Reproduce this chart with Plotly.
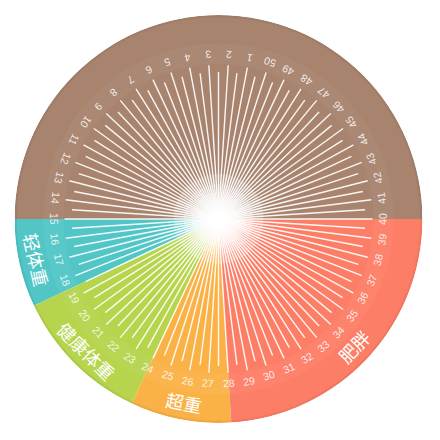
import math
import plotly.graph_objects as go

# ---- data ----
categories = ["轻体重", "健康体重", "超重", "肥胖", ""]
bmi_start = [15, 18.5, 24, 28, 40]
bmi_end = [18.5, 24, 28, 40, 65]          # 65 == 15 after wrapping 50 -> 1
colors = ["#52c6c6", "#b6d54c", "#fab247", "#fd7e67", "#a8846f"]
tick_labels = [str(i) for i in range(1, 51)]
tick_values = list(range(1, 51))

# ---- geometry / scale ----
W = H = 440
PAGE_OFF = 8.0                      # browser body margin
CX, CY, R = 218.5 - PAGE_OFF, 219.0 - PAGE_OFF, 204.0
STEP = 360.0 / 50
ANCHOR_BMI, ANCHOR_DEG = 40, 90.0


def bmi_to_theta(b):
    return (ANCHOR_DEG + (ANCHOR_BMI - b) * STEP) % 360


def polar_to_paper(r, theta):
    t = math.radians(theta)
    sx = CX + r * R * math.sin(t)
    sy = CY - r * R * math.cos(t)
    return sx / W, 1 - sy / H


def text_angle(theta):
    a = (theta + 180) % 360
    if a > 180:
        a -= 360
    return a


fig = go.Figure()

# sectors
for name, s, e, c in zip(categories, bmi_start, bmi_end, colors):
    mid = bmi_to_theta((s + e) / 2)
    fig.add_trace(go.Barpolar(
        r=[1], theta=[mid], width=[(e - s) * STEP],
        marker=dict(color=c, line=dict(width=0)),
        hoverinfo="skip", showlegend=False))

# subtle light band behind labels
fig.add_trace(go.Barpolar(
    r=[0.1], base=[0.76], theta=[0], width=[360],
    marker=dict(color="rgba(255,255,255,0.04)", line=dict(width=0)),
    hoverinfo="skip", showlegend=False))
# subtle darker rim
fig.add_trace(go.Barpolar(
    r=[0.012], base=[0.988], theta=[0], width=[360],
    marker=dict(color="rgba(0,0,0,0.05)", line=dict(width=0)),
    hoverinfo="skip", showlegend=False))

# radial lines: integer (long) and half (short)
rs, ts = [], []
for v in tick_values:
    for off, length in ((0.0, 0.755), (0.5, 0.72)):
        th = bmi_to_theta(v + off)
        rs += [0, length, None]
        ts += [th, th, None]
fig.add_trace(go.Scatterpolar(
    r=rs, theta=ts, mode="lines",
    line=dict(color="rgba(255,255,255,0.92)", width=1.4),
    hoverinfo="skip", showlegend=False))

# center glow
glow_sizes = [90, 70, 54, 40, 30, 22, 14]
for sz in glow_sizes:
    fig.add_trace(go.Scatterpolar(
        r=[0], theta=[0], mode="markers",
        marker=dict(size=sz, color="white", opacity=0.2, line=dict(width=0)),
        hoverinfo="skip", showlegend=False))

annotations = []
for v, lab in zip(tick_values, tick_labels):
    th = bmi_to_theta(v)
    x, y = polar_to_paper(0.806, th)
    annotations.append(dict(
        x=x, y=y, xref="paper", yref="paper", text=lab, showarrow=False,
        textangle=text_angle(th), xanchor="center", yanchor="middle",
        font=dict(family="Liberation Sans, Arial", size=10.5,
                  color="rgba(255,255,255,0.85)")))

for name, s, e in zip(categories, bmi_start, bmi_end):
    if not name:
        continue
    th = bmi_to_theta((s + e) / 2)
    x, y = polar_to_paper(0.912, th)
    annotations.append(dict(
        x=x, y=y, xref="paper", yref="paper", text=name, showarrow=False,
        textangle=text_angle(th), xanchor="center", yanchor="middle",
        font=dict(family="Noto Sans CJK SC", size=18, color="white")))

fig.update_layout(
    width=W, height=H,
    margin=dict(l=0, r=0, t=0, b=0),
    paper_bgcolor="white",
    plot_bgcolor="white",
    bargap=0,
    polar=dict(
        domain=dict(x=[(CX - R) / W, (CX + R) / W],
                    y=[1 - (CY + R) / H, 1 - (CY - R) / H]),
        bgcolor="rgba(0,0,0,0)",
        radialaxis=dict(range=[0, 1], visible=False),
        angularaxis=dict(visible=False, direction="clockwise", rotation=90),
        barmode="overlay",
    ),
    annotations=annotations,
)

fig.write_html("out.html")
